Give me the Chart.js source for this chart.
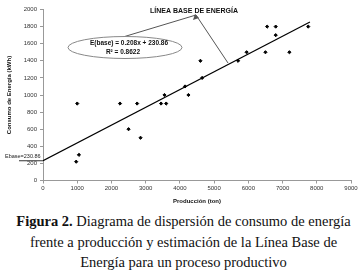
<!DOCTYPE html>
<html>
<head>
<meta charset="utf-8">
<script src="https://cdn.jsdelivr.net/npm/chart.js@4/dist/chart.umd.min.js"></script>
<style>
  body { margin: 0; background: #fff; width: 363px; height: 277px; overflow: hidden; }
  #wrap { position: relative; width: 363px; height: 205px; }
  .caption {
    font-family: 'Liberation Serif', 'Times New Roman', serif;
    font-size: 14.5px; line-height: 20.5px; text-align: center; color: #111;
    margin-top: 6px; padding-left: 4px; white-space: nowrap;
  }
</style>
</head>
<body>
<div id="wrap"><canvas id="chart" width="363" height="205"></canvas></div>
<div class="caption"><b>Figura 2.</b> Diagrama de dispersión de consumo de energía<br>frente a producción y estimación de la Línea Base de<br>Energía para un proceso productivo</div>
<script>
  // produccion (ton) vs consumo (kWh)
  const produccion = [970, 1050, 1000, 2250, 2500, 2750, 2850, 3450, 3550, 3600, 4150, 4250,
    4600, 4650, 5700, 5950, 6500, 6550, 6800, 6800, 7200, 7750];
  const consumo = [220, 300, 900, 900, 600, 900, 500, 900, 1000, 900, 1100, 1000,
    1400, 1200, 1400, 1500, 1500, 1800, 1800, 1700, 1500, 1800];

  const pendiente = 0.208;
  const eBase = 230.86;
  const lineaX = [0, 7800];

  const xTicks = [0, 1000, 2000, 3000, 4000, 5000, 6000, 7000, 8000, 9000];
  const yTicks = [0, 200, 400, 600, 800, 1000, 1200, 1400, 1600, 1800, 2000];

  const puntos = produccion.map((x, i) => ({ x: x, y: consumo[i] }));
  const linea = lineaX.map(x => ({ x: x, y: pendiente * x + eBase }));

  const notas = {
    id: 'notas',
    afterDraw(chart) {
      const ctx = chart.ctx;
      const ys = chart.scales.y;
      ctx.save();

      // Ebase label + mark
      const yb = ys.getPixelForValue(eBase);
      ctx.strokeStyle = '#333';
      ctx.lineWidth = 1;
      ctx.beginPath();
      ctx.moveTo(19, yb);
      ctx.lineTo(43, yb);
      ctx.stroke();
      ctx.fillStyle = '#222';
      ctx.font = '5.5px Arial';
      ctx.textAlign = 'left';
      ctx.textBaseline = 'bottom';
      ctx.fillText('Ebase=230.86', 5, yb - 2);

      // callout lines
      ctx.strokeStyle = '#555';
      ctx.beginPath();
      ctx.moveTo(123, 37);
      ctx.lineTo(196, 15);
      ctx.moveTo(228, 63);
      ctx.lineTo(196, 15);
      ctx.stroke();
      ctx.fillStyle = '#555';
      ctx.beginPath();
      ctx.moveTo(195, 14);
      ctx.lineTo(193, 20);
      ctx.lineTo(199, 18);
      ctx.closePath();
      ctx.fill();

      // ellipse
      ctx.fillStyle = '#fff';
      ctx.strokeStyle = '#888';
      ctx.beginPath();
      ctx.ellipse(125, 47.5, 57, 11, 0, 0, Math.PI * 2);
      ctx.fill();
      ctx.stroke();

      ctx.fillStyle = '#111';
      ctx.font = 'bold 6.5px Arial';
      ctx.textAlign = 'center';
      ctx.textBaseline = 'middle';
      ctx.fillText('E(base) = 0.208x + 230.86', 129, 43.5);
      ctx.fillText('R² = 0.8622', 123, 52);

      ctx.font = 'bold 7px Arial';
      ctx.fillText('LÍNEA BASE DE ENERGÍA', 194, 11);
      ctx.restore();
    }
  };

  new Chart(document.getElementById('chart'), {
    type: 'scatter',
    data: {
      datasets: [{
        data: puntos,
        backgroundColor: '#000',
        borderColor: '#000',
        pointRadius: 1.6,
        pointStyle: 'rectRot'
      }, {
        type: 'line',
        data: linea,
        borderColor: '#000',
        borderWidth: 1.2,
        pointRadius: 0,
        fill: false
      }]
    },
    options: {
      responsive: false,
      animation: false,
      layout: { padding: { left: 0, right: 12, top: 9.5, bottom: 0 } },
      plugins: { legend: { display: false }, tooltip: { enabled: false } },
      scales: {
        x: {
          type: 'linear', min: 0, max: 9000,
          afterBuildTicks: s => { s.ticks = xTicks.map(v => ({ value: v })); },
          afterFit: s => { s.height = 24.5; },
          grid: { drawOnChartArea: false, tickLength: 3, color: '#999' },
          border: { color: '#999' },
          ticks: { font: { size: 6, family: 'Arial' }, color: '#333', padding: 1, maxRotation: 0, callback: v => String(v) },
          title: { display: true, text: 'Producción (ton)', font: { size: 6, weight: 'bold', family: 'Arial' }, color: '#111', padding: 0 }
        },
        y: {
          min: 0, max: 2000,
          afterBuildTicks: s => { s.ticks = yTicks.map(v => ({ value: v })); },
          afterFit: s => { s.width = 43; },
          grid: { drawOnChartArea: false, tickLength: 3, color: '#999' },
          border: { color: '#999' },
          ticks: { font: { size: 6, family: 'Arial' }, color: '#333', padding: 3, callback: v => String(v) },
          title: { display: true, text: 'Consumo de Energía (kWh)', font: { size: 6, weight: 'bold', family: 'Arial' }, color: '#111', padding: { top: 6, bottom: 0 } }
        }
      }
    },
    plugins: [notas]
  });
</script>
</body>
</html>
